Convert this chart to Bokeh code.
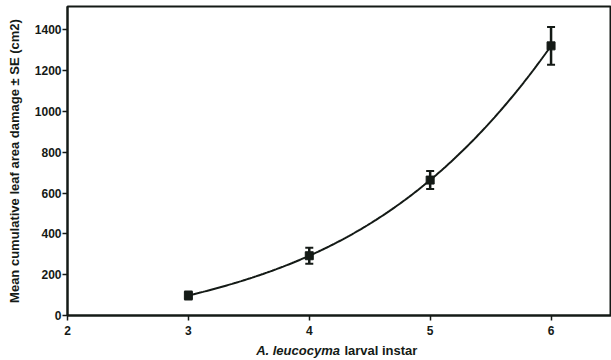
import numpy as np
from bokeh.plotting import figure
from bokeh.layouts import column
from bokeh.models import Whisker, TeeHead, ColumnDataSource, Range1d, FixedTicker
from bokeh.core.properties import value
from bokeh.embed import file_html
from bokeh.resources import INLINE

# Data
instar = [3, 4, 5, 6]
mean_damage = [98, 293, 664, 1322]
se_damage = [20, 39, 44, 93]
x_ticks = [2, 3, 4, 5, 6]
y_ticks = [0, 200, 400, 600, 800, 1000, 1200, 1400]
xlabel_italic = "A. leucocyma"
xlabel_plain = "larval instar"

INK = "#141a16"
FONT = "Liberation Sans"
X_START, X_END = 2, 6.5
Y_END = 1515

p = figure(width=611, height=342, output_backend="svg", toolbar_location=None,
           x_range=Range1d(X_START, X_END), y_range=Range1d(0, Y_END),
           min_border_left=67, min_border_right=0, min_border_top=6, min_border_bottom=27)
# plot box drawn by the frame outline
p.outline_line_color = INK
p.outline_line_width = 2
p.outline_line_alpha = 1.0
p.xgrid.visible = False
p.ygrid.visible = False
p.background_fill_color = "white"
p.border_fill_color = "white"

for ax in (p.xaxis, p.yaxis):
    ax.axis_line_width = 2
    ax.axis_line_color = INK
    ax.major_tick_line_color = INK
    ax.major_tick_line_width = 1.5
    ax.major_tick_in = 0
    ax.major_tick_out = 5
    ax.minor_tick_line_color = None
    ax.major_label_text_font = FONT
    ax.major_label_text_font_style = "bold"
    ax.major_label_text_font_size = "12px"
    ax.major_label_text_color = INK

p.xaxis.ticker = FixedTicker(ticks=x_ticks)
p.yaxis.ticker = FixedTicker(ticks=y_ticks)
p.xaxis.major_label_standoff = 5
p.yaxis.major_label_standoff = 1

p.yaxis.axis_label = "Mean cumulative leaf area damage \u00b1 SE (cm2)"
p.yaxis.axis_label_text_font = FONT
p.yaxis.axis_label_text_font_style = "bold"
p.yaxis.axis_label_text_font_size = "13px"
p.yaxis.axis_label_text_color = INK
p.yaxis.axis_label_standoff = 10

# fitted trend curve derived from the data
coef = np.polyfit(instar, mean_damage, 3)
xs = np.linspace(min(instar), max(instar), 200)
p.line(xs, np.polyval(coef, xs), line_color=INK, line_width=2)

src = ColumnDataSource(dict(
    x=instar, y=mean_damage,
    lo=[m - s for m, s in zip(mean_damage, se_damage)],
    hi=[m + s for m, s in zip(mean_damage, se_damage)],
))
p.add_layout(Whisker(source=src, base="x", lower="lo", upper="hi",
                     line_color=INK, line_width=2.5,
                     upper_head=TeeHead(size=8, line_color=INK, line_width=2),
                     lower_head=TeeHead(size=8, line_color=INK, line_width=2)))
p.scatter("x", "y", source=src, marker="square", size=8, color=INK)

# x-axis label strip (mixed italic / bold)
q = figure(width=611, height=18, output_backend="svg", toolbar_location=None,
           x_range=Range1d(0, 611), y_range=Range1d(0, 18),
           x_axis_location=None, y_axis_location=None,
           min_border_left=0, min_border_right=0, min_border_top=0, min_border_bottom=0)
q.grid.visible = False
q.outline_line_color = None
q.background_fill_color = "white"
q.border_fill_color = "white"
q.text(x=[306], y=[10], text=[xlabel_italic], text_font=value(FONT),
       text_font_style="bold italic", text_font_size="13px",
       text_align="right", text_baseline="middle", text_color=INK)
q.text(x=[311], y=[10], text=[xlabel_plain], text_font=value(FONT),
       text_font_style="bold", text_font_size="13px",
       text_align="left", text_baseline="middle", text_color=INK)

layout = column(p, q, spacing=0)
open("out.html", "w").write(file_html(layout, INLINE))
